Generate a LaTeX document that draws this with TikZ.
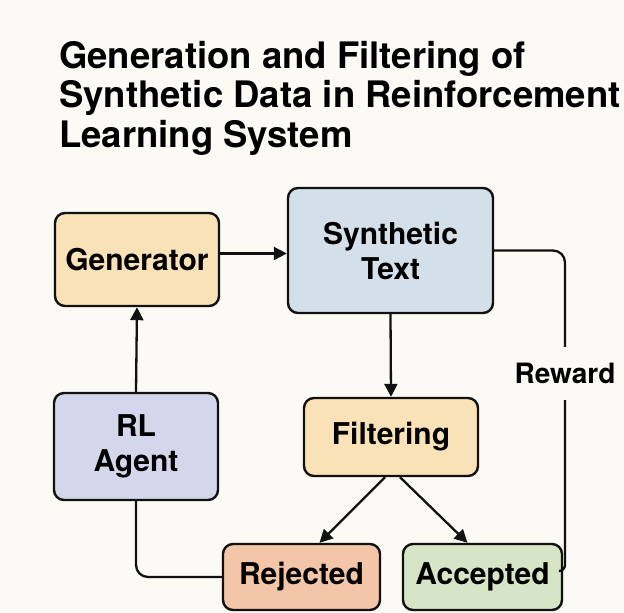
\documentclass[tikz,border=0pt]{standalone}
\usepackage{fontspec}
\setmainfont{TeX Gyre Heros}
\usetikzlibrary{arrows.meta}

\definecolor{paper}{HTML}{FBFAF5}
\definecolor{peach}{HTML}{F9E2B8}
\definecolor{steel}{HTML}{D3E0EA}
\definecolor{lavender}{HTML}{D4D6EC}
\definecolor{salmon}{HTML}{F2C6A6}
\definecolor{sage}{HTML}{D6E5C6}
\definecolor{ink}{HTML}{111111}

\tikzset{
  box/.style={draw=ink, line width=2.4pt, rounded corners=10pt,
    align=center, inner sep=0pt,
    font=\bfseries\fontsize{30}{35}\selectfont},
  flow/.style={draw=ink, line width=2.3pt,
    -{Triangle[length=13pt,width=13pt]}},
  link/.style={draw=ink, line width=2.3pt},
}

\begin{document}
\begin{tikzpicture}[x=1pt,y=-1pt]
  \useasboundingbox[fill=paper] (0,0) rectangle (624,613);

  % title
  \node[anchor=north west, align=left, inner sep=0pt,
        font=\bfseries\fontsize{36.5}{39.5}\selectfont] (title) at (59,41)
    {Generation and Filtering of\\
     Synthetic Data in Reinforcement\\
     Learning System};

  % boxes
  \node[box, fill=peach, minimum width=164pt, minimum height=93pt]
    (gen) at (137,259.5) {Generator};
  \node[box, fill=steel, minimum width=205pt, minimum height=125pt]
    (syn) at (390.5,250.5) {Synthetic\\Text};
  \node[box, fill=peach, minimum width=174pt, minimum height=78pt]
    (fil) at (391,437) {Filtering};
  \node[box, fill=lavender, minimum width=164pt, minimum height=107pt]
    (rl) at (136,446.5) {RL\\Agent};
  \node[box, fill=salmon, minimum width=157pt, minimum height=66pt]
    (rej) at (301.5,577) {Rejected};
  \node[box, fill=sage, minimum width=159pt, minimum height=66pt]
    (acc) at (482.5,577) {Accepted};

  % reward label on the feedback line
  \node[inner sep=0pt, minimum height=53pt,
        font=\bfseries\fontsize{28}{32}\selectfont]
    (rew) at (565,373.5) {Reward};

  % connectors
  \draw[flow] ([yshift=6pt]gen.east) -- ([yshift=6pt]gen.east -| syn.west);
  \draw[flow] (syn.south) -- (fil.north);
  \draw[flow] ([xshift=-6pt]fil.south) -- ([xshift=18pt]rej.north);
  \draw[flow] ([xshift=9pt]fil.south) -- ([xshift=-15pt]acc.north);
  \draw[flow] (rl.north) -- (gen.south);
  \draw[link, rounded corners=12pt] (rej.west) -| (rl.south);
  \draw[link, rounded corners=12pt] (syn.east) -| (rew.north);
  \draw[link, rounded corners=6pt] (rew.south) |- ([yshift=6pt]acc.east);
\end{tikzpicture}
\end{document}
